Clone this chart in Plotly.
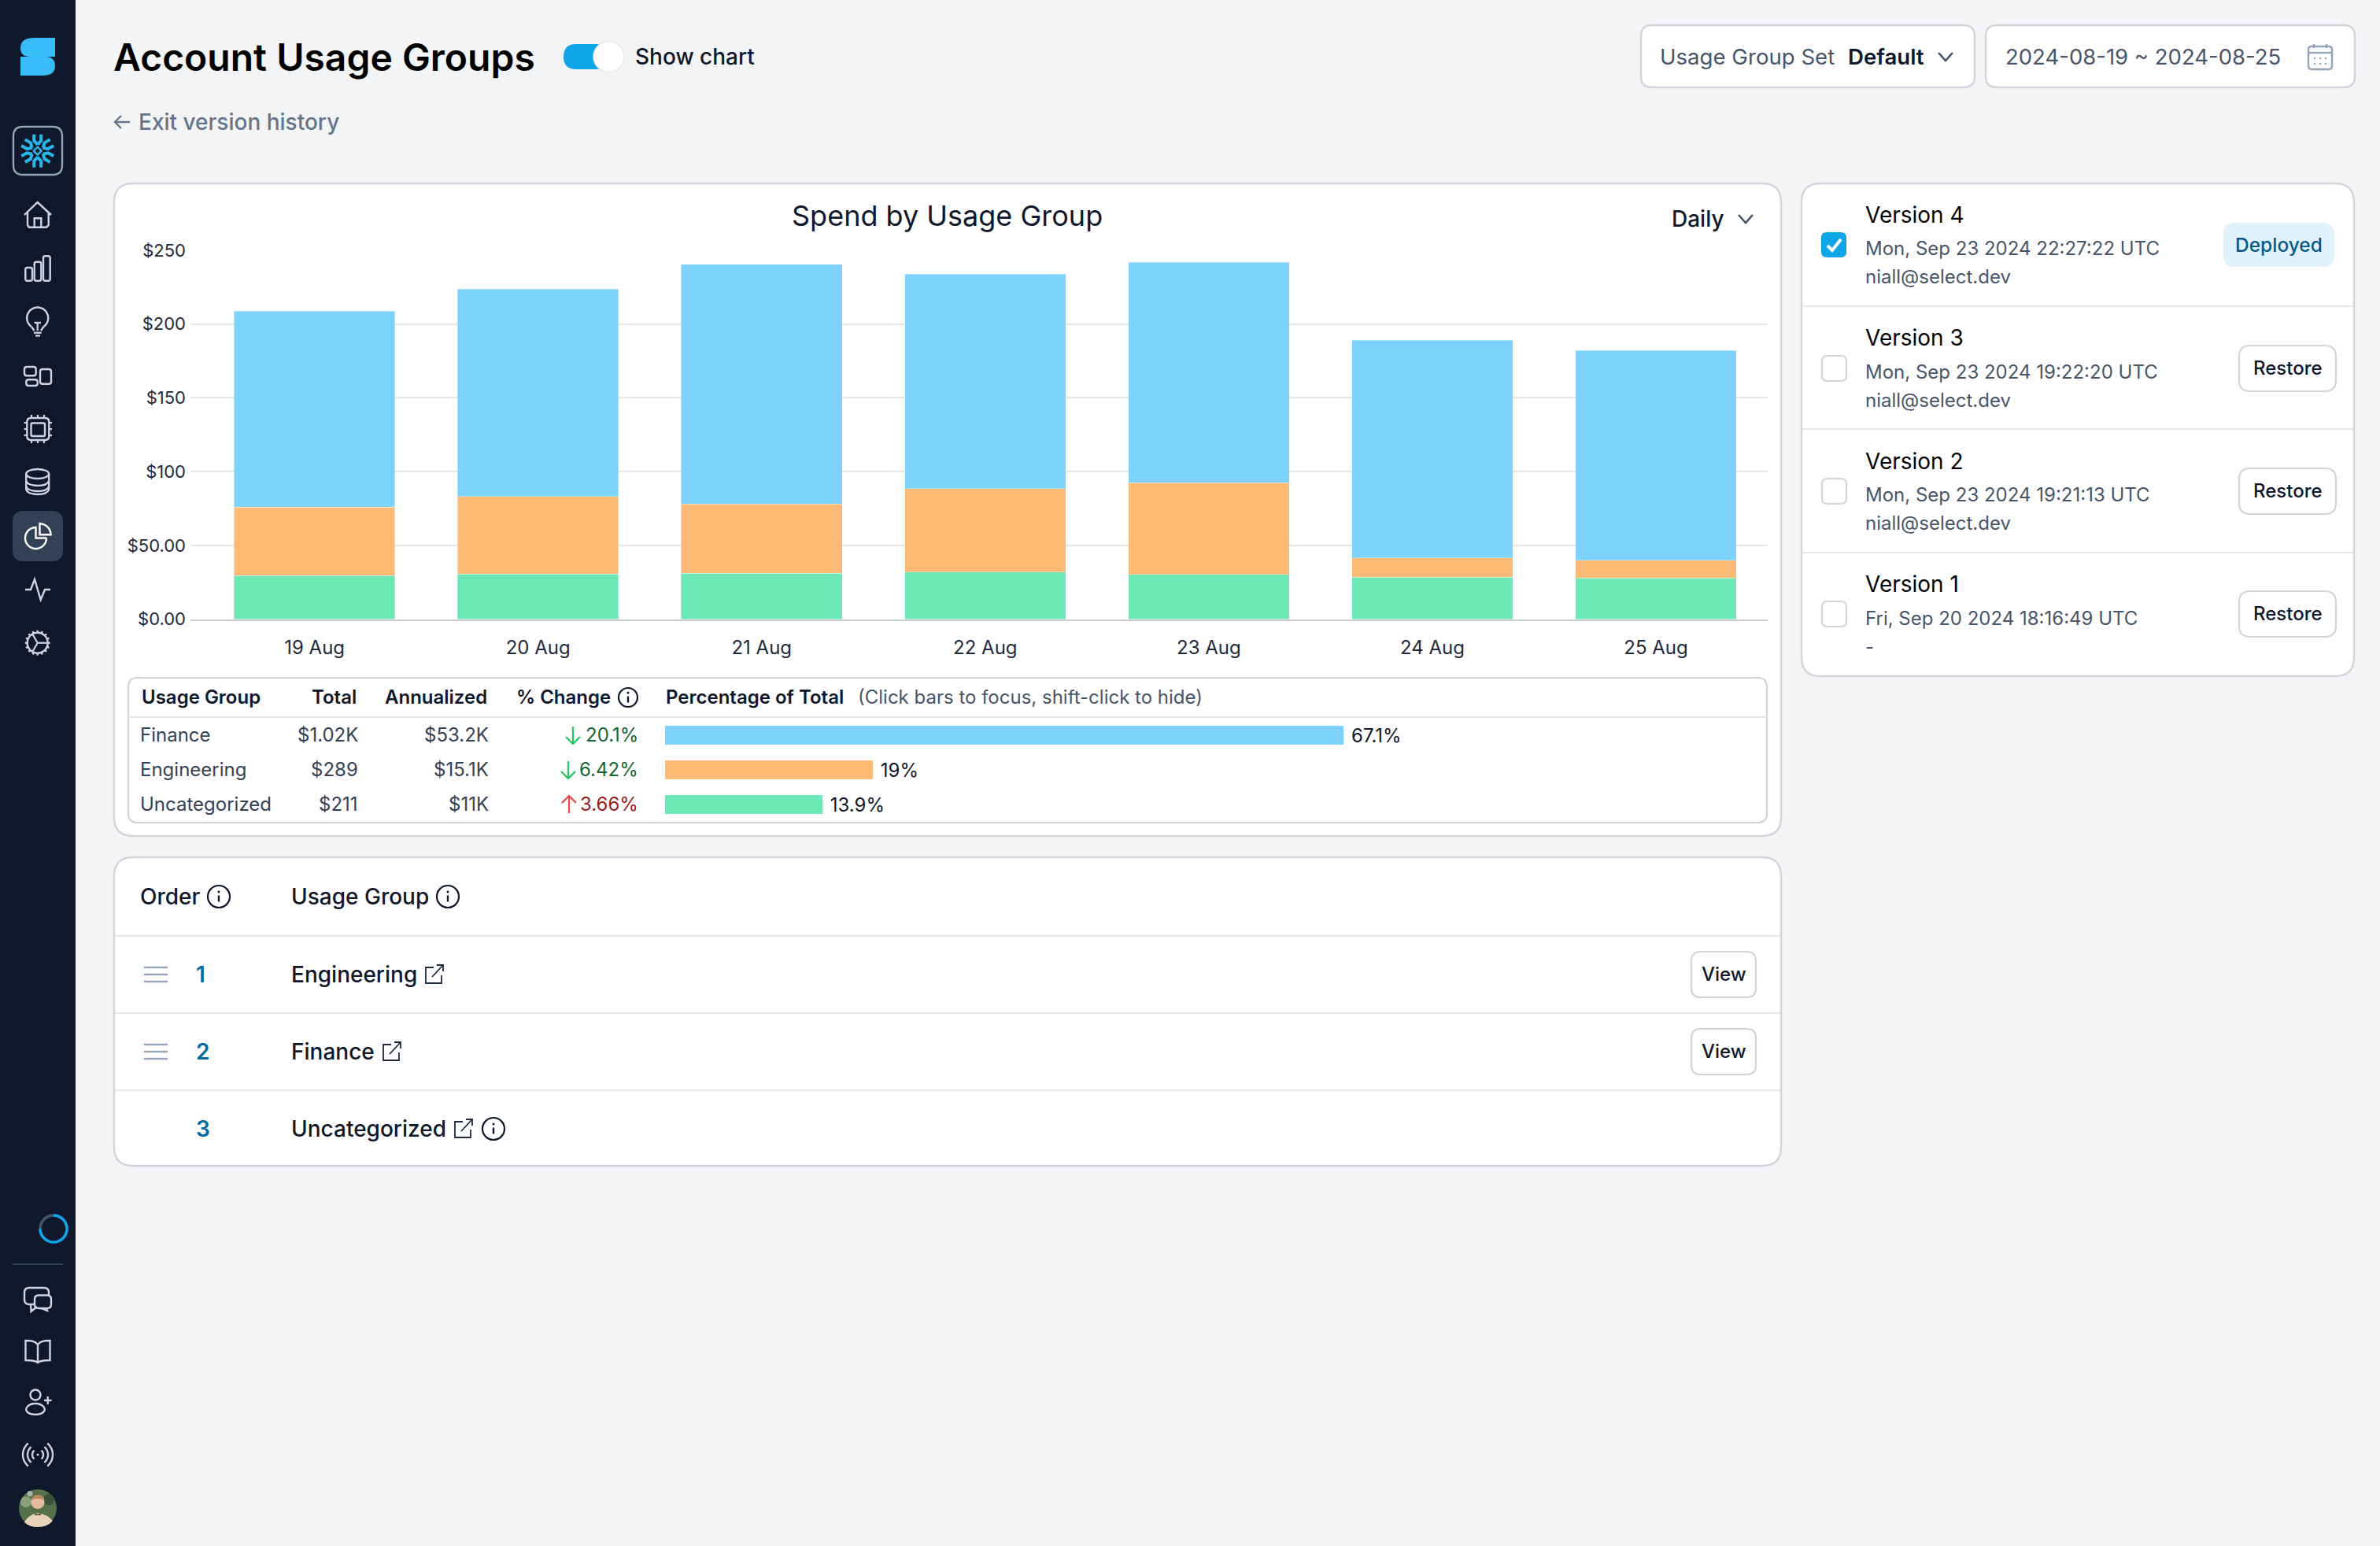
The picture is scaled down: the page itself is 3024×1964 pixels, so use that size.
import math
import plotly.graph_objects as go

# ---------- chart data ----------
days = ["19 Aug", "20 Aug", "21 Aug", "22 Aug", "23 Aug", "24 Aug", "25 Aug"]
uncategorized = [29.5, 30.6, 31.1, 32.0, 30.2, 28.3, 27.9]
engineering = [46.5, 52.6, 47.0, 56.4, 62.3, 13.1, 12.1]
finance = [132.7, 140.4, 162.4, 145.5, 149.4, 147.7, 142.1]
y_ticks = [0, 50, 100, 150, 200, 250]
y_tick_labels = ["$0.00", "$50.00", "$100", "$150", "$200", "$250"]

table_groups = ["Finance", "Engineering", "Uncategorized"]
table_total = ["$1.02K", "$289", "$211"]
table_annual = ["$53.2K", "$15.1K", "$11K"]
table_change = ["20.1%", "6.42%", "3.66%"]
table_direction = ["down", "down", "up"]
table_bar_length = [67.1, 20.55, 15.57]
table_pct_labels = ["67.1%", "19%", "13.9%"]

order_groups = ["Engineering", "Finance", "Uncategorized"]
version_names = ["Version 4", "Version 3", "Version 2", "Version 1"]
version_dates = ["Mon, Sep 23 2024 22:27:22 UTC", "Mon, Sep 23 2024 19:22:20 UTC",
                 "Mon, Sep 23 2024 19:21:13 UTC", "Fri, Sep 20 2024 18:16:49 UTC"]
version_users = ["niall@select.dev", "niall@select.dev", "niall@select.dev", "-"]

# ---------- colours ----------
BLUE, ORANGE, GREEN = "#7dd3fc", "#fdba74", "#6ee7b7"
INK = "#0f172a"
SLATE = "#475569"
BORDER = "#d1d5db"
DIVIDER = "#e5e7eb"
SIDE = "#0f172a"
ICON = "#cbd5e1"
SKY = "#0ea5e9"
FONT = "Inter, 'Noto Sans', sans-serif"

W, H = 3024, 1964
shapes, notes = [], []


def path(d, line=None, w=2.0, fill=None):
    shapes.append(dict(type="path", path=d, xref="x", yref="y", layer="below",
                       fillcolor=fill or "rgba(0,0,0,0)",
                       line=dict(color=line or "rgba(0,0,0,0)", width=w if line else 0)))


def rrect(x0, y0, x1, y1, r, fill=None, line=None, w=2.0):
    d = (f"M{x0+r},{y0} L{x1-r},{y0} Q{x1},{y0} {x1},{y0+r} L{x1},{y1-r} Q{x1},{y1} {x1-r},{y1} "
         f"L{x0+r},{y1} Q{x0},{y1} {x0},{y1-r} L{x0},{y0+r} Q{x0},{y0} {x0+r},{y0} Z")
    path(d, line, w, fill)


def circle(cx, cy, r, fill=None, line=None, w=2.0):
    shapes.append(dict(type="circle", xref="x", yref="y", layer="below", x0=cx-r, x1=cx+r, y0=cy-r, y1=cy+r,
                       fillcolor=fill or "rgba(0,0,0,0)",
                       line=dict(color=line or "rgba(0,0,0,0)", width=w if line else 0)))


def seg(x0, y0, x1, y1, color, w=2.0):
    path(f"M{x0},{y0} L{x1},{y1}", color, w)


def poly(points, line=None, w=2.0, fill=None, close=False):
    d = "M" + " L".join(f"{x:.2f},{y:.2f}" for x, y in points) + (" Z" if close else "")
    path(d, line, w, fill)


def arc(cx, cy, r, a0, a1, n=48):
    return [(cx + r*math.cos(math.radians(a0+(a1-a0)*i/n)), cy + r*math.sin(math.radians(a0+(a1-a0)*i/n)))
            for i in range(n+1)]


def text(x, y, s, size, color=INK, weight=400, anchor="left"):
    dx = {"left": -2, "right": 2, "center": 0}[anchor]
    notes.append(dict(x=x+dx, y=y, xref="x", yref="y", text=s, showarrow=False, xanchor=anchor, yanchor="middle",
                      borderpad=0, font=dict(family=FONT, size=size, color=color, weight=weight)))


def info(cx, cy, r=13, color=INK):
    circle(cx, cy, r, line=color, w=2.2)
    seg(cx, cy-1.5, cx, cy+6.5, color, 2.4)
    circle(cx, cy-6, 1.5, fill=color)


def chevron(cx, cy, color=SLATE):
    poly([(cx-9, cy-5), (cx, cy+5), (cx+9, cy-5)], color, 2.6)


def external(cx, cy, color="#1e293b"):
    poly([(cx-1, cy-9), (cx-11, cy-9), (cx-11, cy+11), (cx+9, cy+11), (cx+9, cy+1)], color, 1.8)
    seg(cx-3, cy+3, cx+11, cy-12, color, 1.8)
    poly([(cx+3, cy-12), (cx+11, cy-12), (cx+11, cy-4)], color, 1.8)


# ---------- sidebar ----------
rrect(-20, -20, 96, H+20, 0, fill=SIDE)
path("M70,48 L44,48 Q26,48 26,61 Q26,72 38,72 L26,72 L26,96 L54,96 Q70,96 70,84 Q70,72 58,72 L70,72 Z", fill="#38bdf8")
rrect(17, 161, 79, 222, 12, line="#94a3b8", w=2.4)
FLAKE = "#29b5e8"
fx, fy = 47.7, 191.7
for ang in (30, 90, 150, 210, 270, 330):
    c, s = math.cos(math.radians(ang)), math.sin(math.radians(ang))
    pt = lambda r, o: (fx + r*c - o*s, fy + r*s + o*c)
    poly([pt(8, 0), pt(13, 4.5), pt(21, 4.5)], FLAKE, 4)
    poly([pt(8, 0), pt(13, -4.5), pt(21, -4.5)], FLAKE, 4)
poly([(fx, fy-5), (fx+5, fy), (fx, fy+5), (fx-5, fy)], FLAKE, 2.4, close=True)
# home
poly([(31, 273), (47.7, 257), (65, 273)], ICON, 2.4)
poly([(35, 270), (35, 286), (37, 288.7), (59, 288.7), (61.7, 286), (61.7, 270)], ICON, 2.4)
poly([(43.7, 288.7), (43.7, 277.3), (52.3, 277.3), (52.3, 288.7)], ICON, 2.4)
# bars
rrect(32.3, 340, 41, 356.7, 2.5, line=ICON, w=2.4)
rrect(43.7, 332.7, 52.3, 356.7, 2.5, line=ICON, w=2.4)
rrect(55, 325.3, 63.7, 356.7, 2.5, line=ICON, w=2.4)
# bulb
poly(arc(47.7, 404, 13.5, 125, 415), ICON, 2.4)
seg(40, 415, 43.5, 420, ICON, 2.4)
seg(55.4, 415, 52, 420, ICON, 2.4)
seg(47.7, 410, 47.7, 420, ICON, 2.4)
seg(43.5, 410, 52, 410, ICON, 2.4)
seg(43, 422.7, 52.7, 422.7, ICON, 2.4)
seg(45, 426.5, 51, 426.5, ICON, 2.4)
# layout blocks
rrect(31, 466, 45.7, 477.3, 3, line=ICON, w=2.4)
rrect(33.3, 482.3, 47.7, 490, 3, line=ICON, w=2.4)
rrect(51, 469, 65, 487.7, 3, line=ICON, w=2.4)
# chip
rrect(34.3, 531, 62.3, 559, 5, line=ICON, w=2.4)
rrect(39.5, 537.5, 57, 554, 1.5, line=ICON, w=2.4)
for off in (-8, 0, 8):
    seg(48+off, 527, 48+off, 531, ICON, 2.2)
    seg(48+off, 559, 48+off, 563, ICON, 2.2)
    seg(30.5, 545+off, 34.3, 545+off, ICON, 2.2)
    seg(62.3, 545+off, 66, 545+off, ICON, 2.2)
# database
shapes.append(dict(type="circle", xref="x", yref="y", layer="below", x0=33.2, x1=62.2, y0=596, y1=608,
                   line=dict(color=ICON, width=2.4), fillcolor="rgba(0,0,0,0)"))
seg(33.2, 602, 33.2, 622, ICON, 2.4)
seg(62.2, 602, 62.2, 622, ICON, 2.4)
for yy in (611, 618, 622):
    path(f"M33.2,{yy} C36,{yy+8} 59,{yy+8} 62.2,{yy}", ICON, 2.4)
# active pie
rrect(16, 649, 80, 713, 14, fill="#334155")
poly(arc(45.5, 683.5, 13.5, 0, 270) + [(45.5, 683.5), (59, 683.5)], "#ffffff", 2.4)
poly([(50.5, 665)] + arc(50.5, 679.3, 14, -88, 0, 12)[1:] + [(50.5, 679.3)], "#ffffff", 2.4, close=True)
# pulse
poly([(32, 749), (39, 749), (44, 736), (51.7, 762), (57, 749), (64, 749)], ICON, 2.4)
# gear
circle(47.7, 816.7, 13, line=ICON, w=2.4)
for i in range(16):
    a = math.radians(i*22.5)
    seg(47.7+13*math.cos(a), 816.7+13*math.sin(a), 47.7+16*math.cos(a), 816.7+16*math.sin(a), ICON, 2.4)
for a in (0, 120, 240):
    seg(47.7, 816.7, 47.7+13*math.cos(math.radians(a)), 816.7+13*math.sin(math.radians(a)), ICON, 2.2)
# spinner and divider
poly(arc(68, 1561, 17, 180, 270), "#475569", 3.6)
poly(arc(68, 1561, 17, -90, 180), SKY, 3.6)
seg(16, 1606, 80, 1606, "#334155", 2)
# chat
rrect(31, 1636, 62, 1657, 6, line=ICON, w=2.4)
rrect(44, 1645.5, 65, 1662, 5, fill=SIDE, line=ICON, w=2.4)
poly([(39, 1657), (39.5, 1666), (47, 1660)], ICON, 2.4)
poly([(52, 1662), (60, 1665), (59, 1662)], ICON, 2.4)
# book
path("M48,1708 C44,1703 38,1703 32.5,1703 L32.5,1728 C38,1728 44,1728 48,1731 C52,1728 58,1728 63.5,1728 L63.5,1703 C58,1703 52,1703 48,1708 Z", ICON, 2.4)
seg(48, 1708, 48, 1731, ICON, 2.4)
# add user
circle(45, 1772, 6.5, line=ICON, w=2.4)
path("M35,1794 C30,1790 36,1783 45,1783 C54,1783 60,1790 55,1794 C50,1798 40,1798 35,1794 Z", ICON, 2.4)
seg(56, 1779, 65.5, 1779, ICON, 2.4)
seg(60.7, 1774, 60.7, 1784, ICON, 2.4)
# broadcast
circle(48, 1848, 1.5, fill=ICON)
for r in (7, 13, 19):
    poly(arc(48, 1848, r, -50, 50, 10), ICON, 2.4)
    poly(arc(48, 1848, r, 130, 230, 10), ICON, 2.4)
# avatar
circle(48, 1916, 24, fill="#56704c")
circle(33, 1908, 7, fill="#8aa27c")
circle(62, 1905, 7, fill="#3a5238")
circle(38, 1897.5, 3.5, fill="#a9b8a0")
path("M31,1934 Q36,1924 48,1922 Q60,1924 67,1932 Q60,1940 48,1940 Q38,1940 31,1934 Z", fill="#e8d3b9")
circle(48, 1908.5, 8.5, fill="#e6bd9f")
path("M39.5,1906 Q41,1899 48,1899 Q56,1899 56.5,1906 Q48,1901.5 39.5,1906 Z", fill="#b98a5a")
seg(44, 1924, 52, 1924, "#6b5a48", 2)

# ---------- cards ----------
CW = 2.4
rrect(145, 233, 2263, 1062, 24, fill="#ffffff", line=BORDER, w=CW)
rrect(145, 1089, 2263, 1481, 24, fill="#ffffff", line=BORDER, w=CW)
rrect(2289, 233, 2991, 859, 24, fill="#ffffff", line=BORDER, w=CW)
rrect(2085, 32, 2509, 111, 14, fill="#ffffff", line=BORDER, w=CW)
rrect(2523, 32, 2992, 111, 14, fill="#ffffff", line=BORDER, w=CW)

# ---------- header ----------
text(145, 72, "Account Usage Groups", 48, "#000000", 600)
rrect(716, 56, 792, 88, 16, fill=SKY)
circle(773.5, 72, 19.5, fill="#ffffff", line="#e5e7eb", w=1.5)
text(808, 72, "Show chart", 28, INK, 500)
poly([(165, 155), (147, 155)], "#64748b", 2.4)
poly([(154, 147), (146, 155), (154, 163)], "#64748b", 2.4)
text(177, 155, "Exit version history", 28, "#64748b", 500)
text(2110, 72, "Usage Group Set", 27.6, SLATE)
text(2349, 72, "Default", 27.6, INK, 600)
chevron(2472, 72)
text(2549, 72, "2024-08-19 ~ 2024-08-25", 27.5, SLATE)
rrect(2933, 59, 2963, 88, 4, line="#94a3b8", w=2.4)
seg(2933, 67, 2963, 67, "#94a3b8", 2.4)
seg(2940, 56, 2940, 61, "#94a3b8", 2.4)
seg(2956, 56, 2956, 61, "#94a3b8", 2.4)
for cx in (2941, 2948, 2955):
    for cy in (74, 81):
        circle(cx, cy, 1.2, fill="#94a3b8")

# ---------- chart card texts ----------
text(1203, 274, "Spend by Usage Group", 36, INK, 400, "center")
text(2125, 278, "Daily", 28, INK, 500)
chevron(2218, 278)

# ---------- usage table ----------
rrect(163, 861, 2245, 1045, 12, line=BORDER, w=2.2)
seg(163, 911, 2245, 911, DIVIDER, 2)
text(181, 885, "Usage Group", 24, INK, 600)
text(452, 885, "Total", 24, INK, 600, "right")
text(618, 885, "Annualized", 24, INK, 600, "right")
text(657, 885, "% Change", 24, INK, 600)
info(798, 886, 12)
text(847, 885, "Percentage of Total", 24, INK, 600)
text(1091, 885, "(Click bars to focus, shift-click to hide)", 24, SLATE)
row_y = [934, 978, 1022]
for i, yy in enumerate(row_y):
    text(179, yy-1, table_groups[i], 24, "#334155")
    text(454, yy-1, table_total[i], 24, "#334155", 400, "right")
    text(620, yy-1, table_annual[i], 24, "#334155", 400, "right")
    up = table_direction[i] == "up"
    text(810, yy-1, table_change[i], 24, "#991b1b" if up else "#166534", 400, "right")
    ax = {0: 728, 1: 722, 2: 723}[i]
    col = "#ef4444" if up else "#22c55e"
    seg(ax, yy-11, ax, yy+11, col, 2.2)
    if up:
        poly([(ax-9, yy-2), (ax, yy-11), (ax+9, yy-2)], col, 2.2)
    else:
        poly([(ax-9, yy+2), (ax, yy+11), (ax+9, yy+2)], col, 2.2)

# ---------- order table ----------
for yy in (1189, 1287, 1385):
    seg(146, yy, 2262, yy, DIVIDER, 2)
text(179, 1139, "Order", 28, INK, 500)
info(278, 1139, 14)
text(371, 1139, "Usage Group", 28, INK, 500)
info(569, 1139, 14)
order_y = [1238, 1336, 1434]
ext_x = [552, 498, 589]
for i, yy in enumerate(order_y):
    text(250, yy, str(i+1), 28, "#0369a1", 600)
    text(371, yy, order_groups[i], 28, INK, 500)
    external(ext_x[i], yy)
    if i < 2:
        for off in (-9, 0, 9):
            seg(183, yy+off, 213, yy+off, "#94a3b8", 2.4)
        rrect(2149, yy-29, 2231, yy+29, 12, fill="#ffffff", line=BORDER, w=2.2)
        text(2190, yy-1, "View", 24, INK, 500, "center")
info(627, 1434, 14)

# ---------- versions ----------
for yy in (389, 545, 702):
    seg(2290, yy, 2990, yy, DIVIDER, 2)
v_y = [273, 429, 586, 742]
d_y = [315.5, 472, 628, 785]
u_y = [351, 508, 664, 821]
c_y = [311, 468, 624, 780]
for i in range(4):
    text(2371, v_y[i], version_names[i], 28, "#000000", 400)
    text(2371, d_y[i], version_dates[i], 24, SLATE)
    text(2371, u_y[i], version_users[i], 24, SLATE)
    if i == 0:
        rrect(2314, c_y[i]-16, 2346, c_y[i]+16, 7, fill=SKY)
        poly([(2322, c_y[i]+1), (2328, c_y[i]+7), (2339, c_y[i]-7)], "#ffffff", 4)
        rrect(2825, 283, 2966, 339, 14, fill="#e0f2fe")
        text(2895.5, 311, "Deployed", 24.5, "#075985", 500, "center")
    else:
        rrect(2315, c_y[i]-16, 2346, c_y[i]+16, 7, fill="#ffffff", line=BORDER, w=2.2)
        rrect(2845, c_y[i]-29, 2968, c_y[i]+29, 14, fill="#ffffff", line=BORDER, w=2.2)
        text(2906.5, c_y[i]-1, "Restore", 24, INK, 500, "center")

# ---------- figure ----------
fig = go.Figure()
# Page layer: a pixel-sized subplot that carries all interface chrome.
fig.add_trace(go.Scatter(x=[0], y=[0], mode="none", xaxis="x", yaxis="y", hoverinfo="skip", showlegend=False))

for name, vals, col in (("Uncategorized", uncategorized, GREEN), ("Engineering", engineering, ORANGE),
                        ("Finance", finance, BLUE)):
    fig.add_trace(go.Bar(name=name, x=days, y=vals, xaxis="x2", yaxis="y2",
                         marker=dict(color=col, line=dict(width=1, color="rgba(255,255,255,0.35)")),
                         showlegend=False))

fig.add_trace(go.Bar(y=table_groups, x=table_bar_length, orientation="h", xaxis="x3", yaxis="y3",
                     marker=dict(color=[BLUE, ORANGE, GREEN], line=dict(width=0)),
                     text=["\u00a0" + s for s in table_pct_labels], constraintext="none",
                     textposition="outside", cliponaxis=False, width=24/44,
                     textfont=dict(family=FONT, size=24, color=INK), showlegend=False))

hidden = dict(visible=False, showgrid=False, zeroline=False, fixedrange=True, automargin=False)
band_left = -0.5 - (257.6 - 242) / 284.07
fig.update_layout(
    width=W, height=H, margin=dict(l=0, r=0, t=0, b=0, pad=0), autosize=False,
    paper_bgcolor="#f3f4f6", plot_bgcolor="rgba(0,0,0,0)",
    font=dict(family=FONT, color=INK),
    barmode="stack", bargap=0.28,
    shapes=shapes, annotations=notes,
    xaxis=dict(domain=[0, 1], range=[0, W], anchor="y", **hidden),
    yaxis=dict(domain=[0, 1], range=[H, 0], anchor="x", **hidden),
    xaxis2=dict(domain=[242/W, 2246/W], range=[band_left, 6.5], anchor="y2", type="category",
                categoryorder="array", categoryarray=days, showgrid=False, zeroline=False, fixedrange=True,
                automargin=False, showline=True, linecolor="#cccccc", linewidth=2, ticks="", ticklabelstandoff=14,
                tickfont=dict(family=FONT, size=24, color="#1e293b")),
    yaxis2=dict(domain=[1-786.5/H, 1-318/H], range=[0, 250], anchor="x2", tickmode="array", tickvals=y_ticks,
                ticktext=y_tick_labels, showgrid=True, gridcolor="#e5e5e5", gridwidth=2, zeroline=False,
                automargin=False, showline=False, ticks="", fixedrange=True, ticklabelstandoff=5,
                tickfont=dict(family=FONT, size=22, color="#1e293b")),
    xaxis3=dict(domain=[845/W, 2130/W], range=[0, 100], anchor="y3", **hidden),
    yaxis3=dict(domain=[1-1044/H, 1-912/H], autorange=False, range=[2.5, -0.5], anchor="x3", type="category",
                categoryorder="array", categoryarray=table_groups, **hidden),
)
fig.write_html("out.html", config=dict(displayModeBar=False),
               post_script="document.body.style.margin='0';document.documentElement.style.overflow='hidden';")
